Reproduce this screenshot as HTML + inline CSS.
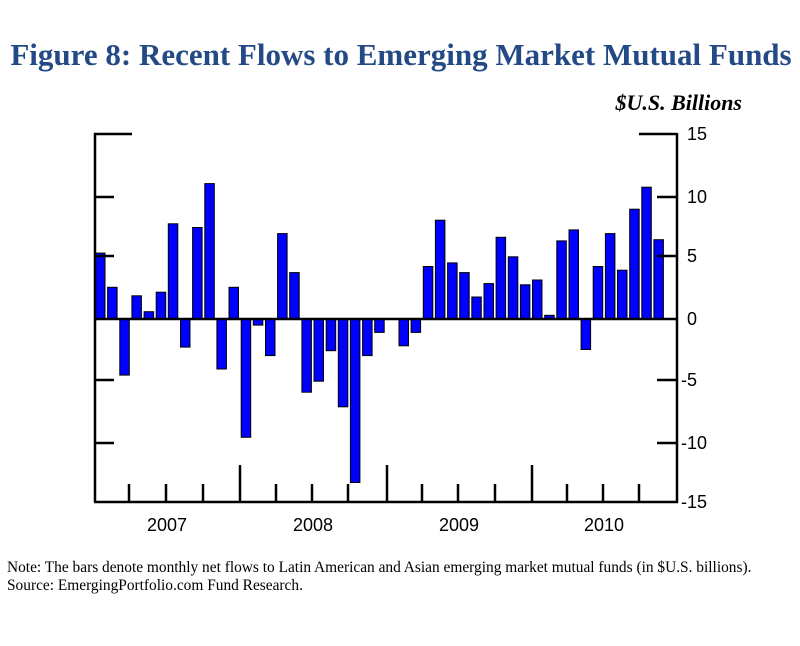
<!DOCTYPE html>
<html><head><meta charset="utf-8"><style>
html,body{margin:0;padding:0;background:#fff;width:800px;height:646px;overflow:hidden}
</style></head><body>
<svg width="800" height="646" xmlns="http://www.w3.org/2000/svg">
<text x="401" y="65" text-anchor="middle" font-family="Liberation Serif, serif" font-weight="bold" font-size="31" fill="#234a85">Figure 8: Recent Flows to Emerging Market Mutual Funds</text>
<text x="742" y="110" text-anchor="end" font-family="Liberation Serif, serif" font-weight="bold" font-style="italic" font-size="22" fill="#000">$U.S. Billions</text>
<g fill="#0000ff" stroke="#000" stroke-width="1">
<rect x="95.5" y="253.1" width="9.5" height="65.9"/>
<rect x="107.6" y="287.3" width="9.5" height="31.7"/>
<rect x="119.8" y="319" width="9.5" height="56.1"/>
<rect x="131.9" y="295.8" width="9.5" height="23.2"/>
<rect x="144.1" y="311.7" width="9.5" height="7.3"/>
<rect x="156.2" y="292.2" width="9.5" height="26.8"/>
<rect x="168.3" y="223.8" width="9.5" height="95.2"/>
<rect x="180.5" y="319" width="9.5" height="28.1"/>
<rect x="192.6" y="227.5" width="9.5" height="91.5"/>
<rect x="204.8" y="183.6" width="9.5" height="135.4"/>
<rect x="216.9" y="319" width="9.5" height="50"/>
<rect x="229.0" y="287.3" width="9.5" height="31.7"/>
<rect x="241.2" y="319" width="9.5" height="118.3"/>
<rect x="253.3" y="319" width="9.5" height="6.1"/>
<rect x="265.5" y="319" width="9.5" height="36.6"/>
<rect x="277.6" y="233.6" width="9.5" height="85.4"/>
<rect x="289.7" y="272.6" width="9.5" height="46.4"/>
<rect x="301.9" y="319" width="9.5" height="73.2"/>
<rect x="314.0" y="319" width="9.5" height="62.2"/>
<rect x="326.2" y="319" width="9.5" height="31.7"/>
<rect x="338.3" y="319" width="9.5" height="87.8"/>
<rect x="350.4" y="319" width="9.5" height="163.5"/>
<rect x="362.6" y="319" width="9.5" height="36.6"/>
<rect x="374.7" y="319" width="9.5" height="13.4"/>
<rect x="399.0" y="319" width="9.5" height="26.8"/>
<rect x="411.1" y="319" width="9.5" height="13.4"/>
<rect x="423.3" y="266.5" width="9.5" height="52.5"/>
<rect x="435.4" y="220.2" width="9.5" height="98.8"/>
<rect x="447.6" y="262.9" width="9.5" height="56.1"/>
<rect x="459.7" y="272.6" width="9.5" height="46.4"/>
<rect x="471.8" y="297" width="9.5" height="22"/>
<rect x="484.0" y="283.6" width="9.5" height="35.4"/>
<rect x="496.1" y="237.3" width="9.5" height="81.7"/>
<rect x="508.3" y="256.8" width="9.5" height="62.2"/>
<rect x="520.4" y="284.8" width="9.5" height="34.2"/>
<rect x="532.5" y="280" width="9.5" height="39"/>
<rect x="544.7" y="315.3" width="9.5" height="3.7"/>
<rect x="556.8" y="240.9" width="9.5" height="78.1"/>
<rect x="569.0" y="229.9" width="9.5" height="89.1"/>
<rect x="581.1" y="319" width="9.5" height="30.5"/>
<rect x="593.2" y="266.5" width="9.5" height="52.5"/>
<rect x="605.4" y="233.6" width="9.5" height="85.4"/>
<rect x="617.5" y="270.2" width="9.5" height="48.8"/>
<rect x="629.7" y="209.2" width="9.5" height="109.8"/>
<rect x="641.8" y="187.2" width="9.5" height="131.8"/>
<rect x="653.9" y="239.7" width="9.5" height="79.3"/>
</g>
<g stroke="#000" stroke-width="2.5" fill="none">
<line x1="95" y1="133" x2="95" y2="502"/>
<line x1="94" y1="502" x2="678" y2="502"/>
<line x1="677" y1="133" x2="677" y2="503"/>
<line x1="94" y1="319" x2="677" y2="319"/>
<line x1="94" y1="134" x2="132" y2="134"/>
<line x1="639" y1="134" x2="677" y2="134"/>
<line x1="95" y1="197" x2="114" y2="197"/>
<line x1="95" y1="256" x2="114" y2="256"/>
<line x1="95" y1="380" x2="114" y2="380"/>
<line x1="95" y1="443" x2="114" y2="443"/>
<line x1="657" y1="197" x2="677" y2="197"/>
<line x1="657" y1="256" x2="677" y2="256"/>
<line x1="657" y1="380" x2="677" y2="380"/>
<line x1="657" y1="443" x2="677" y2="443"/>
<line x1="129" y1="484" x2="129" y2="502"/>
<line x1="166" y1="484" x2="166" y2="502"/>
<line x1="203" y1="484" x2="203" y2="502"/>
<line x1="240" y1="465" x2="240" y2="502"/>
<line x1="276" y1="484" x2="276" y2="502"/>
<line x1="312" y1="484" x2="312" y2="502"/>
<line x1="348" y1="484" x2="348" y2="502"/>
<line x1="387" y1="465" x2="387" y2="502"/>
<line x1="422" y1="484" x2="422" y2="502"/>
<line x1="458" y1="484" x2="458" y2="502"/>
<line x1="495" y1="484" x2="495" y2="502"/>
<line x1="532" y1="465" x2="532" y2="502"/>
<line x1="567" y1="484" x2="567" y2="502"/>
<line x1="603" y1="484" x2="603" y2="502"/>
<line x1="639" y1="484" x2="639" y2="502"/>
</g>
<g font-family="Liberation Sans, sans-serif" font-size="18" fill="#000">
<text x="687" y="140">15</text>
<text x="687" y="203">10</text>
<text x="687" y="262">5</text>
<text x="687" y="325">0</text>
<text x="681" y="386">-5</text>
<text x="681" y="449">-10</text>
<text x="681" y="508">-15</text>
<g text-anchor="middle">
<text x="167" y="531">2007</text>
<text x="313" y="531">2008</text>
<text x="459" y="531">2009</text>
<text x="604" y="531">2010</text>
</g>
</g>
<g font-family="Liberation Serif, serif" font-size="15.4" fill="#000">
<text x="7" y="572">Note: The bars denote monthly net flows to Latin American and Asian emerging market mutual funds (in $U.S. billions).</text>
<text x="7" y="590">Source: EmergingPortfolio.com Fund Research.</text>
</g>
</svg>
</body></html>
